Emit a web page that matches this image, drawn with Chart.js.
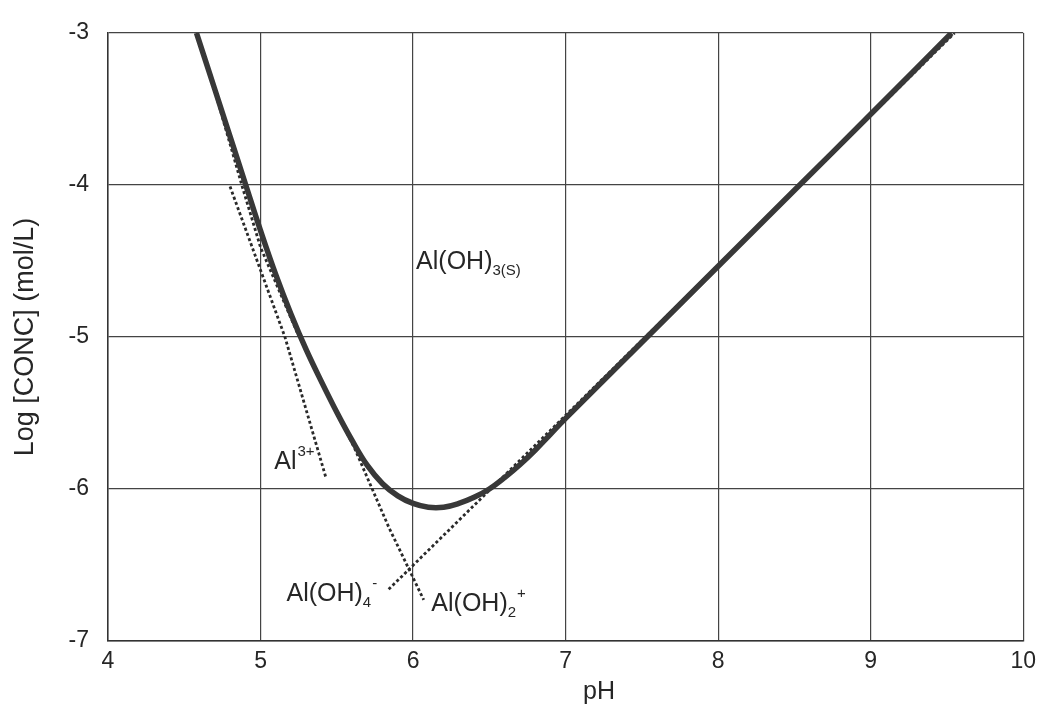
<!DOCTYPE html>
<html lang="en">
<head>
  <meta charset="UTF-8" />
  <title>Al(OH)3 solubility</title>
  <script src="https://cdn.jsdelivr.net/npm/chart.js"></script>
  <style>
    html, body { margin: 0; padding: 0; background: #fff; }
    #wrap { width: 1043px; height: 721px; }
  </style>
</head>
<body>
  <div id="wrap"><canvas id="chart" width="1043" height="721"></canvas></div>

  <script>
    // total dissolved Al (solid curve)
    const curvePH  = [4.58, 4.70, 4.80, 4.90, 5.00, 5.10, 5.20, 5.30, 5.40, 5.50, 5.60, 5.70, 5.80, 5.90, 6.00,
                      6.10, 6.20, 6.30, 6.40, 6.50, 6.60, 6.70, 6.80, 6.90, 7.00, 7.50, 8.00, 8.50, 9.00, 9.53];
    const curveLog = [-3.00, -3.37, -3.68, -3.99, -4.30, -4.59, -4.85, -5.085, -5.295, -5.495, -5.68, -5.845, -5.965, -6.045, -6.095,
                      -6.12, -6.12, -6.095, -6.055, -6.00, -5.925, -5.84, -5.745, -5.64, -5.535, -5.035, -4.535, -4.035, -3.535, -3.00];

    // species lines (dashed)
    const al3PH  = [4.80, 5.16, 5.43];
    const al3Log = [-4.01, -5.00, -5.93];

    const aloh2PH  = [4.68, 4.88, 5.00, 5.24, 5.43, 5.62, 5.84, 6.07];
    const aloh2Log = [-3.31, -4.01, -4.41, -4.97, -5.35, -5.74, -6.25, -6.73];

    const aloh4PH  = [5.84, 9.55];
    const aloh4Log = [-6.66, -3.00];

    const xTicks = [4, 5, 6, 7, 8, 9, 10];
    const yTicks = [-7, -6, -5, -4, -3];

    const FONT = "'Liberation Sans', Arial, sans-serif";
    const INK = '#262626';

    function toXY(xs, ys) {
      return xs.map((x, i) => ({ x: x, y: ys[i] }));
    }

    // labels with sub/superscripts, anchored in data units
    const richLabels = [
      { at: [6.02, -4.55], parts: [['Al(OH)', 'n'], ['3(S)', 'sub']] },
      { at: [5.09, -5.87], parts: [['Al', 'n'], ['3+', 'sup']] },
      { at: [5.17, -6.74], parts: [['Al(OH)', 'n'], ['4', 'sub'], ['-', 'sup']] },
      { at: [6.12, -6.80], parts: [['Al(OH)', 'n'], ['2', 'sub'], ['+', 'sup']] }
    ];

    const labelPlugin = {
      id: 'richLabels',
      afterDraw(chart) {
        const ctx = chart.ctx;
        const xs = chart.scales.x, ys = chart.scales.y;
        ctx.save();
        ctx.fillStyle = INK;
        ctx.textBaseline = 'alphabetic';
        ctx.textAlign = 'left';
        richLabels.forEach(lab => {
          let px = xs.getPixelForValue(lab.at[0]);
          const py = ys.getPixelForValue(lab.at[1]);
          lab.parts.forEach(([t, kind]) => {
            if (kind === 'n') {
              ctx.font = '25px ' + FONT;
              ctx.fillText(t, px, py);
            } else if (kind === 'sub') {
              ctx.font = '15px ' + FONT;
              ctx.fillText(t, px, py + 6);
            } else {
              ctx.font = '15px ' + FONT;
              ctx.fillText(t, px + 1, py - 13);
            }
            px += ctx.measureText(t).width;
          });
        });

        // x axis title
        ctx.font = '25px ' + FONT;
        ctx.textAlign = 'center';
        ctx.textBaseline = 'middle';
        ctx.fillText('pH', 599, 692);
        ctx.restore();
      }
    };

    const dashed = {
      showLine: true,
      borderColor: '#2a2a2a',
      borderWidth: 2.8,
      borderDash: [3, 2.5],
      pointRadius: 0,
      tension: 0
    };

    new Chart(document.getElementById('chart'), {
      type: 'scatter',
      data: {
        datasets: [
          {
            label: 'Total Al',
            data: toXY(curvePH, curveLog),
            showLine: true,
            borderColor: '#383838',
            borderWidth: 5.5,
            pointRadius: 0,
            tension: 0.4
          },
          Object.assign({ label: 'Al3+', data: toXY(al3PH, al3Log) }, dashed),
          Object.assign({ label: 'Al(OH)2+', data: toXY(aloh2PH, aloh2Log) }, dashed),
          Object.assign({ label: 'Al(OH)4-', data: toXY(aloh4PH, aloh4Log) }, dashed)
        ]
      },
      options: {
        responsive: false,
        animation: false,
        layout: { padding: { top: 33, right: 13, left: 0, bottom: 0 } },
        plugins: {
          legend: { display: false },
          tooltip: { enabled: false }
        },
        scales: {
          x: {
            type: 'linear',
            min: xTicks[0],
            max: xTicks[xTicks.length - 1],
            afterBuildTicks: s => { s.ticks = xTicks.map(v => ({ value: v })); },
            ticks: { color: INK, font: { family: FONT, size: 23 }, padding: 7 },
            grid: { color: '#444', lineWidth: 1.2, drawTicks: false },
            border: { color: '#333', width: 1.5 },
            afterFit: s => { s.height = 80; }
          },
          y: {
            min: yTicks[0],
            max: yTicks[yTicks.length - 1],
            afterBuildTicks: s => { s.ticks = yTicks.map(v => ({ value: v })); },
            ticks: { color: INK, font: { family: FONT, size: 23 }, padding: 19 },
            grid: { color: '#444', lineWidth: 1.2, drawTicks: false },
            border: { color: '#333', width: 1.5 },
            title: {
              display: true,
              text: 'Log [CONC] (mol/L)',
              color: INK,
              font: { family: FONT, size: 27 },
              padding: { top: 9, bottom: 0 }
            },
            afterFit: s => { s.width = 108; }
          }
        }
      },
      plugins: [labelPlugin]
    });
  </script>
</body>
</html>
